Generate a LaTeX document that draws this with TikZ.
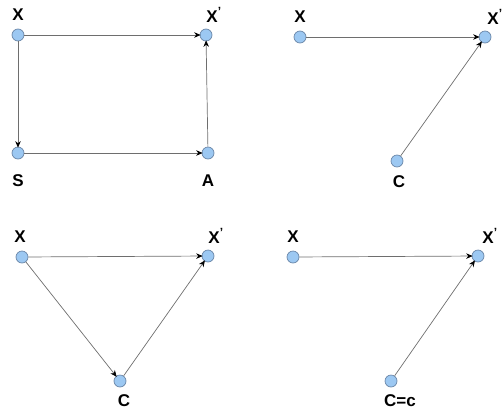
\documentclass[tikz,border=0pt]{standalone}
\usepackage{fontspec}
\setmainfont{Liberation Sans}
\usetikzlibrary{arrows.meta}
\definecolor{nodefill}{HTML}{9CC8F2}
\definecolor{nodeline}{HTML}{6A86A8}
\definecolor{edgecol}{HTML}{6E6E6E}
\begin{document}
\begin{tikzpicture}[x=1pt,y=-1pt,
  vert/.style={circle,fill=nodefill,draw=nodeline,line width=0.7pt,minimum size=12pt,inner sep=0pt},
  lab/.style={font=\fontsize{17}{17}\selectfont\bfseries,inner sep=0pt},
  edge/.style={draw=edgecol,line width=0.7pt,-{Stealth[length=6.5pt,width=5.5pt,black]},shorten >=-1pt}]
\useasboundingbox (0,0) rectangle (503,410);
% panel 1
\node[vert] (a1) at (18,35) {};
\node[vert] (b1) at (206,35) {};
\node[vert] (c1) at (18,153) {};
\node[vert] (d1) at (208,153) {};
\node[lab] (la1) at (18,15) {X};
\node[lab] (lb1) at (214,15) {X\textsuperscript{'}};
\node[lab] (lc1) at (18,181) {S};
\node[lab] (ld1) at (208,181) {A};
\draw[edge] (a1) -- (b1);
\draw[edge] (a1) -- (c1);
\draw[edge] (c1) -- (d1);
\draw[edge] (d1) -- (b1);
% panel 2
\node[vert] (a2) at (300,37) {};
\node[vert] (b2) at (485,37) {};
\node[vert] (c2) at (397,161) {};
\node[lab] (la2) at (300,17) {X};
\node[lab] (lb2) at (495,17) {X\textsuperscript{'}};
\node[lab] (lc2) at (399,182) {C};
\draw[edge] (a2) -- (b2);
\draw[edge] (c2) -- (b2);
% panel 3
\node[vert] (a3) at (22,257) {};
\node[vert] (b3) at (208,256) {};
\node[vert] (c3) at (120,381) {};
\node[lab] (la3) at (20,237) {X};
\node[lab] (lb3) at (216,236) {X\textsuperscript{'}};
\node[lab] (lc3) at (124,401) {C};
\draw[edge] (a3) -- (b3);
\draw[edge] (a3) -- (c3);
\draw[edge] (c3) -- (b3);
% panel 4
\node[vert] (a4) at (293,257) {};
\node[vert] (b4) at (478,256) {};
\node[vert] (c4) at (391,381) {};
\node[lab] (la4) at (293,237) {X};
\node[lab] (lb4) at (490,236) {X\textsuperscript{'}};
\node[lab] (lc4) at (400,401) {C=c};
\draw[edge] (a4) -- (b4);
\draw[edge] (c4) -- (b4);
\end{tikzpicture}
\end{document}
